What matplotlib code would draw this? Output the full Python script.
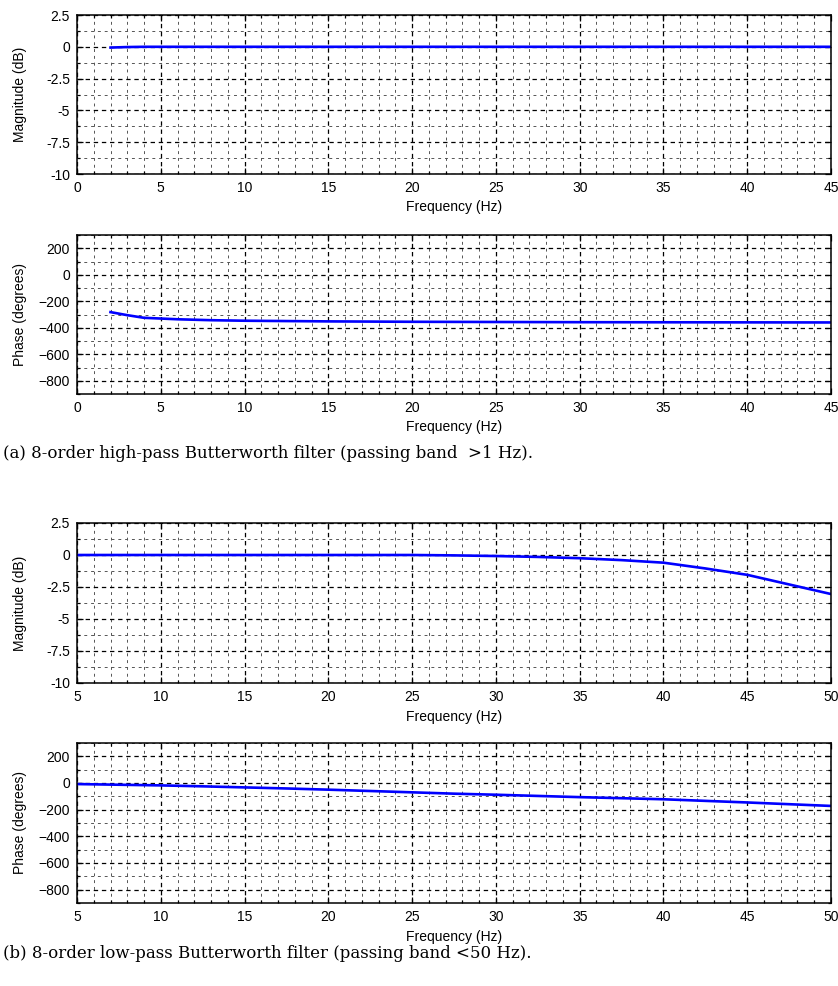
import matplotlib
matplotlib.use("Agg")
import matplotlib.pyplot as plt
from matplotlib.ticker import MultipleLocator

# (a) high-pass filter response
freq_a = [2, 3, 4, 6, 8, 10, 15, 20, 30, 45]
mag_a = [-0.06, -0.02, 0.0, 0.0, 0.0, 0.0, 0.0, 0.0, 0.0, 0.0]
phase_a = [-282, -305, -325, -336, -343, -347, -352, -355, -358, -360]

# (b) low-pass filter response
freq_b = [5, 10, 15, 20, 25, 27.5, 30, 32.5, 35, 37.5, 40, 42.5, 45, 47.5, 50]
mag_b = [0.0, 0.0, 0.0, 0.0, 0.0, -0.03, -0.08, -0.15, -0.25, -0.4,
         -0.6, -1.05, -1.55, -2.3, -3.05]
freq_b_phase = [5, 7.5, 10, 12.5, 15, 17.5, 20, 22.5, 25, 27.5,
                30, 32.5, 35, 37.5, 40, 42.5, 45, 47.5, 50]
phase_b = [-8, -13, -18, -25, -33, -41, -50, -60, -70, -80,
           -88, -97, -106, -114, -122, -134, -146, -159, -172]

mag_ticks = [2.5, 0, -2.5, -5, -7.5, -10]
mag_labels = ["2.5", "0", "-2.5", "-5", "-7.5", "-10"]
phase_ticks = [200, 0, -200, -400, -600, -800]

captions = ["(a) 8-order high-pass Butterworth filter (passing band  >1 Hz).",
            "(b) 8-order low-pass Butterworth filter (passing band <50 Hz)."]

plt.rcParams["font.family"] = ["Liberation Sans", "DejaVu Sans"]
plt.rcParams["font.size"] = 10

fig = plt.figure(figsize=(8.38, 9.86), dpi=100)

W, H = 838, 986


def add_axes(top, bottom, left=77, right=831):
    return fig.add_axes([left / W, 1 - bottom / H, (right - left) / W, (bottom - top) / H])


def style(ax, xlim, xmaj, ylim, ymaj, ymin, ylabel):
    ax.set_xlim(*xlim)
    ax.set_ylim(*ylim)
    ax.xaxis.set_major_locator(MultipleLocator(xmaj))
    ax.xaxis.set_minor_locator(MultipleLocator(1))
    ax.yaxis.set_major_locator(MultipleLocator(ymaj))
    ax.yaxis.set_minor_locator(MultipleLocator(ymin))
    ax.grid(which="major", color="black", linestyle=(0, (3.5, 3)), linewidth=0.9)
    ax.grid(which="minor", color="#555555", linestyle=(0, (3, 4)), linewidth=0.7)
    ax.set_axisbelow(True)
    ax.tick_params(which="both", direction="in", top=True, right=True, width=0.9)
    ax.tick_params(which="major", length=4, pad=5, labelsize=10)
    ax.tick_params(which="minor", length=2)
    for sp in ax.spines.values():
        sp.set_linewidth(1.1)
    ax.set_xlabel("Frequency (Hz)", fontsize=10, labelpad=4)
    ax.set_ylabel(ylabel, fontsize=10)
    ax.yaxis.set_label_coords(-50 / 754, 0.5)


ax1 = add_axes(15, 174)
ax1.plot(freq_a, mag_a, color="#0000ff", linewidth=1.9)
style(ax1, (0, 45), 5, (-10, 2.5), 2.5, 1.25, "Magnitude (dB)")
ax1.set_yticks(mag_ticks)
ax1.set_yticklabels(mag_labels)

ax2 = add_axes(235, 394)
ax2.plot(freq_a, phase_a, color="#0000ff", linewidth=1.9)
style(ax2, (0, 45), 5, (-900, 300), 200, 100, "Phase (degrees)")
ax2.set_yticks(phase_ticks)

ax3 = add_axes(523, 683)
ax3.plot(freq_b, mag_b, color="#0000ff", linewidth=1.9)
style(ax3, (5, 50), 5, (-10, 2.5), 2.5, 1.25, "Magnitude (dB)")
ax3.set_yticks(mag_ticks)
ax3.set_yticklabels(mag_labels)

ax4 = add_axes(743, 903)
ax4.plot(freq_b_phase, phase_b, color="#0000ff", linewidth=1.9)
style(ax4, (5, 50), 5, (-900, 300), 200, 100, "Phase (degrees)")
ax4.set_yticks(phase_ticks)

fig.text(3 / W, 1 - 454 / H, captions[0], family="DejaVu Serif", fontsize=12,
         ha="left", va="center")
fig.text(3 / W, 1 - 954 / H, captions[1], family="DejaVu Serif", fontsize=12,
         ha="left", va="center")

fig.savefig("out.png", dpi=100)
